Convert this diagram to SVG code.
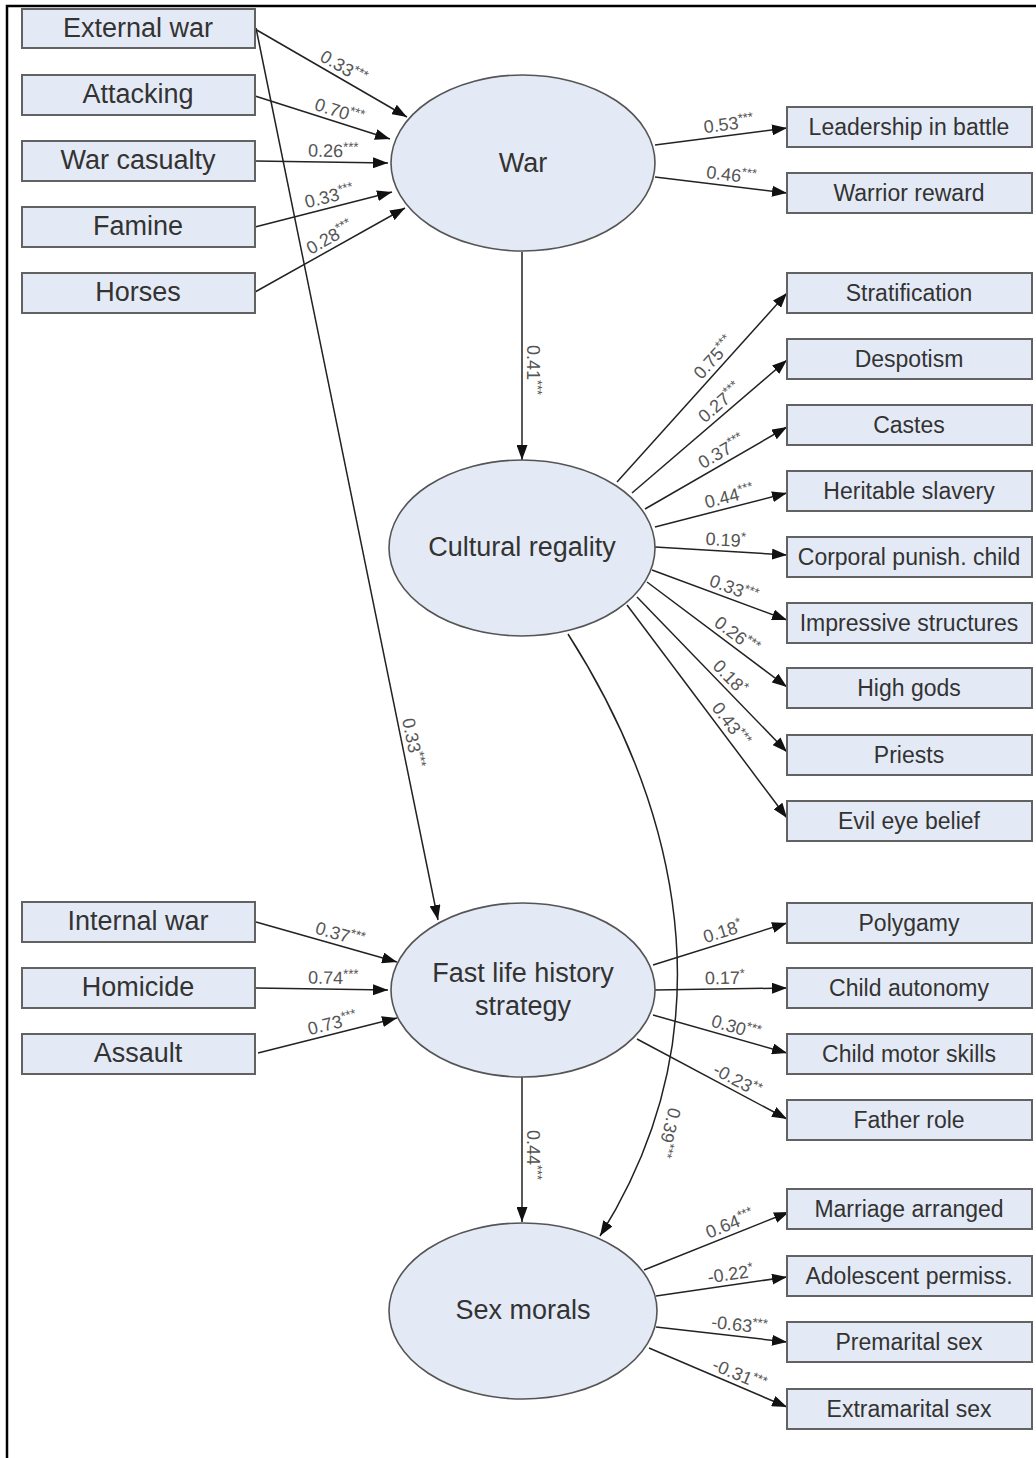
<svg xmlns="http://www.w3.org/2000/svg" width="1036" height="1458" viewBox="0 0 1036 1458">
<defs>
<marker id="ah" markerUnits="userSpaceOnUse" markerWidth="15" markerHeight="11" refX="15" refY="5.5" orient="auto">
<path d="M0,0 L15,5.5 L0,11 z" fill="#111"/>
</marker>
<style>
.box rect{fill:#e4eaf5;stroke:#626262;stroke-width:2}
.box text{font-family:"Liberation Sans",Arial,sans-serif;fill:#333;text-anchor:middle}
.lt{font-size:27px}
.rt{font-size:23px}
.lat ellipse{fill:#e4eaf5;stroke:#555;stroke-width:1.6}
.lat text{font-family:"Liberation Sans",Arial,sans-serif;font-size:27px;fill:#333;text-anchor:middle}
#connectors path{fill:none;stroke:#222;stroke-width:1.5;marker-end:url(#ah)}
#labels text{font-family:"Liberation Sans",Arial,sans-serif;font-size:18px;fill:#555;text-anchor:middle}
#labels tspan{font-size:13px}
</style>
</defs>
<rect x="0" y="0" width="1036" height="1458" fill="#fff"/>
<path d="M7,1458 V6 H1036" fill="none" stroke="#000" stroke-width="2.5"/>

<g id="connectors">
<path d="M255,29 L407,117"/>
<path d="M255,96 L390,139"/>
<path d="M255,161 L388,163"/>
<path d="M255,227 L392,192"/>
<path d="M255,292 L405,208"/>
<path d="M256,28 L438,920"/>
<path d="M655,145 L787,128"/>
<path d="M655,177 L787,193"/>
<path d="M522,252 L522,460"/>
<path d="M617,482 L787,293"/>
<path d="M632,493 L787,360"/>
<path d="M645,509 L787,427"/>
<path d="M655,527 L787,493"/>
<path d="M655,547 L787,555"/>
<path d="M652,570 L787,620"/>
<path d="M647,582 L787,687"/>
<path d="M637,597 L787,752"/>
<path d="M627,605 L787,818"/>
<path d="M256,922 L397,962"/>
<path d="M256,988 L388,990"/>
<path d="M258,1053 L397,1018"/>
<path d="M653,965 L787,923"/>
<path d="M655,990 L787,988"/>
<path d="M653,1015 L787,1053"/>
<path d="M637,1039 L787,1119"/>
<path d="M522,1077 L522,1222"/>
<path d="M568,634 C658,775 745,1005 600,1236"/>
<path d="M644,1270 L789,1212"/>
<path d="M656,1296 L787,1277"/>
<path d="M656,1327 L787,1342"/>
<path d="M649,1348 L787,1407"/>
</g>

<g id="labels">
<text transform="translate(338,77) rotate(30.1)" y="-5">0.33<tspan dy="-6">***</tspan></text>
<text transform="translate(336,122) rotate(17.7)" y="-5">0.70<tspan dy="-6">***</tspan></text>
<text transform="translate(333,162) rotate(0.9)" y="-5">0.26<tspan dy="-6">***</tspan></text>
<text transform="translate(332,207) rotate(-14.3)" y="-5">0.33<tspan dy="-6">***</tspan></text>
<text transform="translate(335,247) rotate(-29.2)" y="-5">0.28<tspan dy="-6">***</tspan></text>
<text transform="translate(402,745) rotate(78.5)" y="-5">0.33<tspan dy="-6">***</tspan></text>
<text transform="translate(730,135) rotate(-7.3)" y="-5">0.53<tspan dy="-6">***</tspan></text>
<text transform="translate(730,186) rotate(6.9)" y="-5">0.46<tspan dy="-6">***</tspan></text>
<text transform="translate(522,370) rotate(90)" y="-5">0.41<tspan dy="-6">***</tspan></text>
<text transform="translate(722,365) rotate(-48)" y="-5">0.75<tspan dy="-6">***</tspan></text>
<text transform="translate(727,411) rotate(-40.6)" y="-5">0.27<tspan dy="-6">***</tspan></text>
<text transform="translate(727,461) rotate(-30)" y="-5">0.37<tspan dy="-6">***</tspan></text>
<text transform="translate(732,507) rotate(-14.4)" y="-5">0.44<tspan dy="-6">***</tspan></text>
<text transform="translate(725,551) rotate(3.5)" y="-5">0.19<tspan dy="-6">*</tspan></text>
<text transform="translate(730,599) rotate(20.3)" y="-5">0.33<tspan dy="-6">***</tspan></text>
<text transform="translate(730,644) rotate(36.9)" y="-5">0.26<tspan dy="-6">***</tspan></text>
<text transform="translate(722,685) rotate(45.9)" y="-5">0.18<tspan dy="-6">*</tspan></text>
<text transform="translate(722,731) rotate(53.1)" y="-5">0.43<tspan dy="-6">***</tspan></text>
<text transform="translate(337,945) rotate(15.8)" y="-5">0.37<tspan dy="-6">***</tspan></text>
<text transform="translate(333,989) rotate(0.9)" y="-5">0.74<tspan dy="-6">***</tspan></text>
<text transform="translate(335,1034) rotate(-14.1)" y="-5">0.73<tspan dy="-6">***</tspan></text>
<text transform="translate(726,942) rotate(-17.4)" y="-5">0.18<tspan dy="-6">*</tspan></text>
<text transform="translate(725,989) rotate(-0.9)" y="-5">0.17<tspan dy="-6">*</tspan></text>
<text transform="translate(733,1038) rotate(15.8)" y="-5">0.30<tspan dy="-6">***</tspan></text>
<text transform="translate(732,1090) rotate(28.1)" y="-5">-0.23<tspan dy="-6">**</tspan></text>
<text transform="translate(522,1155) rotate(90)" y="-5">0.44<tspan dy="-6">***</tspan></text>
<text transform="translate(658,1130) rotate(104)" y="-5">0.39<tspan dy="-6">***</tspan></text>
<text transform="translate(734,1234) rotate(-21.8)" y="-5">0.64<tspan dy="-6">***</tspan></text>
<text transform="translate(732,1285) rotate(-8.3)" y="-5">-0.22<tspan dy="-6">*</tspan></text>
<text transform="translate(738,1336) rotate(6.5)" y="-5">-0.63<tspan dy="-6">***</tspan></text>
<text transform="translate(735,1385) rotate(23.1)" y="-5">-0.31<tspan dy="-6">***</tspan></text>
</g>

<g id="war" class="lat"><ellipse cx="523" cy="163" rx="132" ry="88"/><text x="523" y="172">War</text></g>
<g id="cultural-regality" class="lat"><ellipse cx="522" cy="548" rx="133" ry="88"/><text x="522" y="556">Cultural regality</text></g>
<g id="fast-life" class="lat"><ellipse cx="523" cy="990" rx="132" ry="87"/><text x="523" y="982">Fast life history</text><text x="523" y="1015">strategy</text></g>
<g id="sex-morals" class="lat"><ellipse cx="523" cy="1311" rx="134" ry="88"/><text x="523" y="1319">Sex morals</text></g>

<g id="external-war" class="box"><rect x="22" y="9" width="233" height="39"/><text class="lt" x="138" y="37">External war</text></g>
<g id="attacking" class="box"><rect x="22" y="75" width="233" height="40"/><text class="lt" x="138" y="103">Attacking</text></g>
<g id="war-casualty" class="box"><rect x="22" y="141" width="233" height="40"/><text class="lt" x="138" y="169">War casualty</text></g>
<g id="famine" class="box"><rect x="22" y="207" width="233" height="40"/><text class="lt" x="138" y="235">Famine</text></g>
<g id="horses" class="box"><rect x="22" y="273" width="233" height="40"/><text class="lt" x="138" y="301">Horses</text></g>
<g id="internal-war" class="box"><rect x="22" y="902" width="233" height="40"/><text class="lt" x="138" y="930">Internal war</text></g>
<g id="homicide" class="box"><rect x="22" y="968" width="233" height="40"/><text class="lt" x="138" y="996">Homicide</text></g>
<g id="assault" class="box"><rect x="22" y="1034" width="233" height="40"/><text class="lt" x="138" y="1062">Assault</text></g>

<g id="leadership" class="box"><rect x="787" y="107" width="245" height="40"/><text class="rt" x="909" y="135">Leadership in battle</text></g>
<g id="warrior-reward" class="box"><rect x="787" y="173" width="245" height="40"/><text class="rt" x="909" y="201">Warrior reward</text></g>
<g id="stratification" class="box"><rect x="787" y="273" width="245" height="40"/><text class="rt" x="909" y="301">Stratification</text></g>
<g id="despotism" class="box"><rect x="787" y="339" width="245" height="40"/><text class="rt" x="909" y="367">Despotism</text></g>
<g id="castes" class="box"><rect x="787" y="405" width="245" height="40"/><text class="rt" x="909" y="433">Castes</text></g>
<g id="heritable-slavery" class="box"><rect x="787" y="471" width="245" height="40"/><text class="rt" x="909" y="499">Heritable slavery</text></g>
<g id="corporal" class="box"><rect x="787" y="537" width="245" height="40"/><text class="rt" x="909" y="565">Corporal punish. child</text></g>
<g id="impressive" class="box"><rect x="787" y="603" width="245" height="40"/><text class="rt" x="909" y="631">Impressive structures</text></g>
<g id="high-gods" class="box"><rect x="787" y="668" width="245" height="40"/><text class="rt" x="909" y="696">High gods</text></g>
<g id="priests" class="box"><rect x="787" y="735" width="245" height="40"/><text class="rt" x="909" y="763">Priests</text></g>
<g id="evil-eye" class="box"><rect x="787" y="801" width="245" height="40"/><text class="rt" x="909" y="829">Evil eye belief</text></g>
<g id="polygamy" class="box"><rect x="787" y="903" width="245" height="40"/><text class="rt" x="909" y="931">Polygamy</text></g>
<g id="child-autonomy" class="box"><rect x="787" y="968" width="245" height="40"/><text class="rt" x="909" y="996">Child autonomy</text></g>
<g id="child-motor" class="box"><rect x="787" y="1034" width="245" height="40"/><text class="rt" x="909" y="1062">Child motor skills</text></g>
<g id="father-role" class="box"><rect x="787" y="1100" width="245" height="40"/><text class="rt" x="909" y="1128">Father role</text></g>
<g id="marriage" class="box"><rect x="787" y="1189" width="245" height="40"/><text class="rt" x="909" y="1217">Marriage arranged</text></g>
<g id="adolescent" class="box"><rect x="787" y="1256" width="245" height="40"/><text class="rt" x="909" y="1284">Adolescent permiss.</text></g>
<g id="premarital" class="box"><rect x="787" y="1322" width="245" height="40"/><text class="rt" x="909" y="1350">Premarital sex</text></g>
<g id="extramarital" class="box"><rect x="787" y="1389" width="245" height="40"/><text class="rt" x="909" y="1417">Extramarital sex</text></g>
</svg>
